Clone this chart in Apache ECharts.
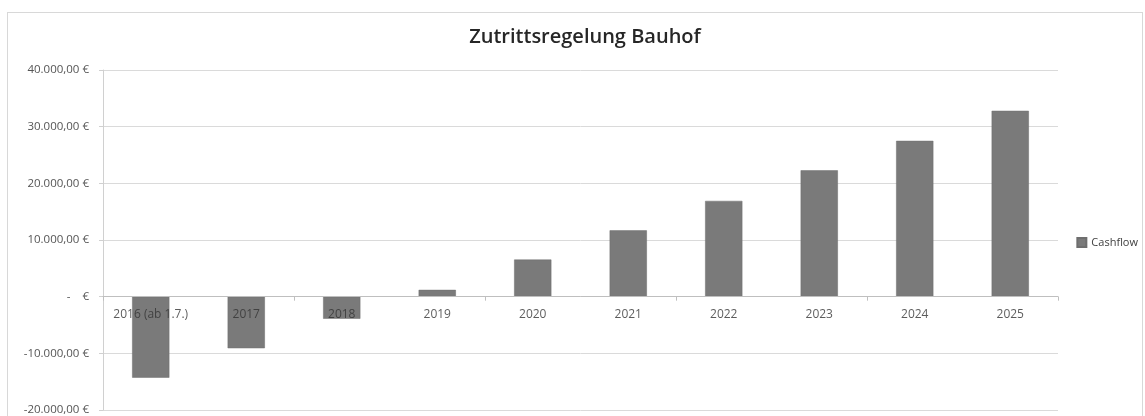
<!DOCTYPE html>
<html><head><meta charset="utf-8">
<script src="https://cdn.jsdelivr.net/npm/echarts@6/dist/echarts.min.js"></script>
<style>html,body{margin:0;padding:0;background:#fff}#c{width:1145px;height:416px}
#frame{position:absolute;left:7px;top:12px;width:1134px;height:410px;border:1px solid #d8d8d8;pointer-events:none}</style>
</head><body><div id="c"></div><div id="frame"></div>
<script>
const categories = ['2016 (ab 1.7.)','2017','2018','2019','2020','2021','2022','2023','2024','2025'];
const cashflow = [-14300,-9100,-3900,1200,6550,11700,16900,22300,27500,32800];
const seriesName = 'Cashflow';
const title = 'Zutrittsregelung Bauhof';
const yMin = -20000, yMax = 40000, yStep = 10000;

function fmt(v){
  if (v === 0) return '-    €';
  const neg = v < 0; const a = Math.abs(v);
  const s = String(a).replace(/\B(?=(\d{3})+(?!\d))/g,'.');
  return (neg?'-':'') + s + ',00 €';
}
const chart = echarts.init(document.getElementById('c'));
chart.setOption({
  animation:false,
  title:{text:title,left:580,textAlign:'center',top:22,textStyle:{fontFamily:'Open Sans',fontSize:20,fontWeight:600,color:'#262626'}},
  legend:{data:[seriesName],right:2,top:232,orient:'vertical',itemWidth:9,itemHeight:9,itemGap:4,
    textStyle:{fontFamily:'Open Sans',fontSize:11,color:'#404040'},icon:'rect'},
  grid:{left:103,right:87,top:70,bottom:6,containLabel:false,outerBoundsMode:'none'},
  xAxis:{type:'category',data:categories,z:5,
    axisLine:{onZero:true,lineStyle:{color:'#bfbfbf'}},
    axisTick:{show:true,length:4,lineStyle:{color:'#bfbfbf'}},
    axisLabel:{show:false}},
  yAxis:{type:'value',min:yMin,max:yMax,interval:yStep,
    axisLine:{show:true,lineStyle:{color:'#d0d0d0'}},
    axisTick:{show:true,length:4,lineStyle:{color:'#d0d0d0'}},
    splitLine:{lineStyle:{color:'#dadada'}},
    axisLabel:{formatter:fmt,margin:14,fontFamily:'Open Sans',fontSize:11.5,color:'#555'}},
  series:[{name:seriesName,type:'bar',data:cashflow,barWidth:'39%',
    itemStyle:{color:'#7a7a7a',borderColor:'#6e6e6e',borderWidth:0.5}},
    {type:'scatter',data:categories.map(c=>[c,0]),symbolSize:0,silent:true,z:10,
     label:{show:true,position:'bottom',distance:12,formatter:p=>p.name||p.value[0],
       fontFamily:'Open Sans',fontSize:12,color:'#333'}}]
});
</script></body></html>
